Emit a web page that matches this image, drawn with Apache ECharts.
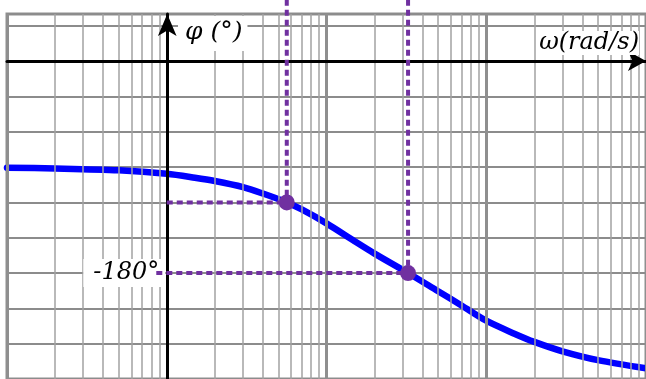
<!DOCTYPE html>
<html>
<head>
<meta charset="utf-8">
<style>
  html, body { margin: 0; padding: 0; background: #ffffff; }
  #chart { width: 646px; height: 379px; }
</style>
<script src="https://cdn.jsdelivr.net/npm/echarts@6/dist/echarts.min.js"></script>
</head>
<body>
<div id="chart"></div>
<script>
// Phase response: angular frequency (rad/s) and phase (degrees)
const omega = [0.1, 0.2, 0.5, 1, 1.5, 2, 3, 4, 5.64, 7, 10, 15, 20, 32.4, 50, 70, 100, 150, 200, 300, 500, 1000];
const phase = [-90.5, -91.2, -92.8, -95.7, -99, -101.8, -107, -112.5, -120, -126, -137.8, -153, -163.5, -180, -195.5, -207.5, -220.5, -231.5, -238.5, -246.5, -254, -261];

// Two marked points on the curve
const markOmega = [5.64, 32.4];
const markPhase = [-120, -180];

// Axis ranges (semi-log paper)
const omegaMin = 0.1;
const omegaMax = 1000;
const phaseMin = -270;
const phaseMax = 40;
const phaseStep = 30;
const axisOmega = 1;          // where the vertical phase axis crosses
const labelledPhase = -180;   // the only graduated phase value
const guideTop = 52;          // guides run up past the frame
const labelEdgeOmega = 0.86;  // -180° guide starts at the label edge

// Layout of the plotting frame
const gridLeft = 7, gridTop = 14;
const decadePx = 160.25;
const phasePx = 35.67 / 30;
const decades = Math.log10(omegaMax / omegaMin);
const gridWidth = decadePx * decades;
const gridHeight = phasePx * (phaseMax - phaseMin);

// Log-paper vertical rulings
const decadeLines = [];
const minorLines = [];
for (let d = omegaMin; d < omegaMax * 1.001; d *= 10) {
  decadeLines.push({ xAxis: +d.toPrecision(3) });
  if (d < omegaMax) {
    for (let k = 2; k <= 9; k++) minorLines.push({ xAxis: +(k * d).toPrecision(3) });
  }
}

const purple = '#7030a0';
const serif = 'DejaVu Serif';
const guideStyle = { color: purple, width: 4, type: [6, 4], cap: 'butt', opacity: 1 };

function guide(from, to) {
  return {
    type: 'line', data: [from, to], showSymbol: false, silent: true,
    clip: false, lineStyle: guideStyle, z: 12
  };
}

const chart = echarts.init(document.getElementById('chart'));
chart.setOption({
  animation: false,
  backgroundColor: '#ffffff',
  grid: {
    show: true,
    left: gridLeft, top: gridTop, width: gridWidth, height: gridHeight,
    borderColor: '#8f8f8f', borderWidth: 3,
    containLabel: false
  },
  xAxis: [{
    type: 'log', logBase: 10, min: omegaMin, max: omegaMax,
    axisLine: {
      show: true, onZero: true, onZeroAxisIndex: 0,
      lineStyle: { color: '#000000', width: 3 },
      symbol: ['none', 'arrow'], symbolSize: [15, 18], symbolOffset: [0, 0]
    },
    axisTick: { show: false },
    axisLabel: { show: false },
    splitLine: { show: false },
    z: 10
  }],
  yAxis: [{
    type: 'value', min: phaseMin, max: phaseMax, interval: phaseStep,
    axisLine: { show: false },
    axisTick: { show: false },
    axisLabel: { show: false },
    splitLine: { show: true, lineStyle: { color: '#8c8c8c', width: 2 } },
    z: 0
  }, {
    type: 'value', min: phaseMin, max: phaseMax, interval: phaseStep,
    position: 'left',
    offset: -decadePx * Math.log10(axisOmega / omegaMin),
    axisLine: {
      show: true, onZero: false,
      lineStyle: { color: '#000000', width: 3 },
      symbol: ['none', 'arrow'], symbolSize: [14, 22], symbolOffset: [0, 0]
    },
    axisTick: { show: false },
    splitLine: { show: false },
    axisLabel: {
      show: true, margin: 2,
      formatter: v => (v === labelledPhase ? '{deg|' + labelledPhase + '°}' : ''),
      rich: {
        deg: {
          fontFamily: serif, fontStyle: 'italic', fontSize: 24, color: '#000000',
          backgroundColor: '#ffffff', padding: [2, 6, 2, 10]
        }
      }
    },
    z: 10
  }],
  graphic: [{
    type: 'text', z: 20,
    x: 178, y: 16,
    style: {
      text: 'φ (°)', font: 'italic 25px "DejaVu Serif"', fill: '#000000',
      backgroundColor: '#ffffff', padding: [4, 5, 6, 7],
      verticalAlign: 'top', align: 'left'
    }
  }, {
    type: 'text', z: 20,
    x: 639, y: 43,
    style: {
      text: 'ω(rad/s)', font: 'italic 24px "DejaVu Serif"', fill: '#000000',
      backgroundColor: '#ffffff', padding: [0, 0, 0, 0],
      verticalAlign: 'middle', align: 'right'
    }
  }],
  series: [{
    // minor rulings 2..9 of every decade
    type: 'scatter', data: [], silent: true, z: 1,
    markLine: {
      silent: true, symbol: ['none', 'none'], animation: false,
      label: { show: false },
      lineStyle: { color: '#a2a2a2', width: 1.5, type: 'solid' },
      data: minorLines
    }
  }, {
    // decade rulings
    type: 'scatter', data: [], silent: true, z: 1,
    markLine: {
      silent: true, symbol: ['none', 'none'], animation: false,
      label: { show: false },
      lineStyle: { color: '#8f8f8f', width: 3, type: 'solid' },
      data: decadeLines
    }
  }, {
    type: 'line',
    data: omega.map((w, i) => [w, phase[i]]),
    smooth: 0.3, showSymbol: false, silent: true,
    lineStyle: { color: '#0000ff', width: 6.5, cap: 'round' },
    z: 3
  },
  guide([markOmega[0], guideTop], [markOmega[0], markPhase[0]]),
  guide([markOmega[1], guideTop], [markOmega[1], markPhase[1]]),
  guide([axisOmega, markPhase[0]], [markOmega[0], markPhase[0]]),
  guide([labelEdgeOmega, markPhase[1]], [markOmega[1], markPhase[1]]),
  {
    type: 'scatter',
    data: markOmega.map((w, i) => [w, markPhase[i]]),
    symbolSize: 16, itemStyle: { color: purple, opacity: 1 }, silent: true,
    z: 13
  }]
});
</script>
</body>
</html>
